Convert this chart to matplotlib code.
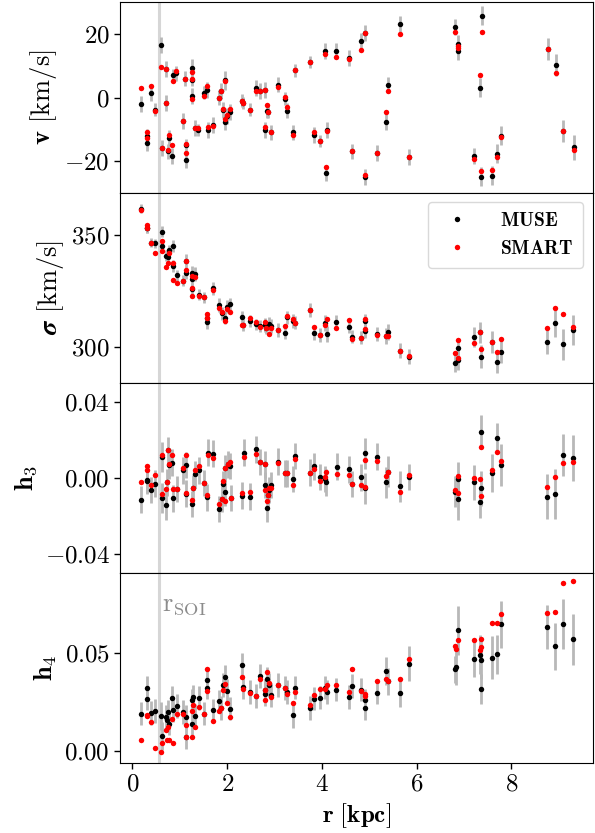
import numpy as np
import matplotlib
matplotlib.use("Agg")
import matplotlib.pyplot as plt

plt.rcParams["font.family"] = "serif"
plt.rcParams["font.serif"] = ["cmr10", "DejaVu Serif"]
plt.rcParams["mathtext.fontset"] = "cm"
plt.rcParams["axes.formatter.use_mathtext"] = True
plt.rcParams["font.size"] = 18

# --- dane: v [km/s] (r, MUSE, SMART, blad MUSE)
r_v = [0.19, 0.30, 0.30, 0.39, 0.47, 0.61, 0.62, 0.70, 0.71, 0.74, 0.78, 0.83, 0.85, 0.92,
       1.06, 1.11, 1.14, 1.14, 1.25, 1.25, 1.25, 1.33, 1.39, 1.50, 1.57, 1.59, 1.71, 1.83,
       1.88, 1.91, 1.95, 1.95, 2.00, 2.07, 2.31, 2.34, 2.48, 2.60, 2.69, 2.79, 2.79, 2.84,
       2.86, 2.92, 3.08, 3.22, 3.27, 3.39, 3.44, 3.75, 3.84, 3.96, 4.06, 4.10, 4.09, 4.30,
       4.57, 4.64, 4.82, 4.92, 4.92, 5.16, 5.35, 5.40, 5.66, 5.84, 6.81, 6.88, 6.88, 7.21,
       7.34, 7.36, 7.38, 7.59, 7.69, 7.78, 8.78, 8.94, 9.10, 9.33]
v_muse = [-2.0, -14.4, -12.0, 1.5, -3.8, 16.7, -16.0, 9.0, -1.6, -17.0, -12.8, -18.4, 7.0, 7.6,
          -7.3, 6.0, -15.0, -19.7, 9.2, 5.5, 0.4, -9.6, -10.2, 1.5, 2.5, -10.2, -8.6, 0.0,
          2.2, -3.8, 5.4, -7.8, -5.9, -4.6, -1.0, -1.7, -3.8, 2.9, 2.2, 2.5, -10.2, -4.1,
          -4.5, -11.0, 4.1, -0.4, -4.1, -11.0, 8.6, 11.2, -11.7, -13.7, 14.7, -10.2, -23.8, 14.7,
          12.4, -17.0, 17.8, 20.5, -25.0, -17.4, -7.6, 4.0, 23.2, -18.8, 22.4, 16.8, 14.7, -18.4,
          3.1, -25.0, 25.8, -24.7, -17.8, -12.1, 15.4, 10.3, -10.5, -15.7]
v_smart = [2.9, -12.8, -11.0, 3.8, -4.1, 9.6, -16.0, 9.0, -1.6, -16.5, -11.7, -14.9, 5.2, 8.5,
           -7.3, 6.0, -14.7, -17.6, 8.0, 6.0, -0.3, -9.6, -9.5, 0.6, 3.6, -9.4, -8.9, 0.0,
           2.2, -3.6, 5.2, -6.8, -5.6, -3.6, -1.2, -1.7, -3.8, 2.2, 2.2, 2.5, -9.4, -2.5,
           -4.5, -11.0, 3.4, 0.2, -3.1, -11.7, 8.6, 11.2, -11.0, -13.7, 13.7, -10.5, -21.8, 12.9,
           12.1, -17.0, 15.0, 20.5, -24.4, -17.4, -4.6, 2.2, 20.0, -18.8, 20.7, 16.2, 15.5, -19.4,
           7.1, -23.2, 20.7, -22.9, -18.6, -12.3, 15.4, 7.7, -10.5, -16.7]
v_err = [2.5, 2.5, 2.0, 2.5, 2.0, 2.5, 2.5, 2.5, 2.5, 2.5, 2.5, 2.5, 2.0, 2.5,
         2.5, 2.5, 2.0, 2.5, 3.0, 2.0, 2.5, 2.5, 2.0, 2.0, 2.5, 2.5, 2.5, 2.5,
         2.5, 2.5, 3.0, 2.5, 2.5, 2.5, 2.0, 2.0, 2.0, 2.5, 2.5, 2.5, 2.5, 2.5,
         2.0, 2.5, 2.5, 2.0, 2.5, 2.5, 2.0, 2.0, 2.5, 2.0, 2.5, 2.5, 2.5, 2.5,
         2.5, 2.5, 2.5, 2.5, 2.5, 2.5, 2.5, 2.5, 2.5, 2.5, 2.5, 3.0, 3.0, 2.5,
         3.0, 3.0, 3.0, 3.0, 3.0, 3.0, 3.5, 3.5, 3.5, 4.0]

# --- dane: sigma [km/s]
r_sig = [0.19, 0.30, 0.30, 0.39, 0.47, 0.62, 0.62, 0.71, 0.74, 0.78, 0.85, 0.85, 0.93, 1.06,
         1.13, 1.13, 1.25, 1.25, 1.25, 1.33, 1.40, 1.50, 1.57, 1.58, 1.71, 1.83, 1.90, 1.95,
         2.00, 2.07, 2.31, 2.34, 2.48, 2.60, 2.69, 2.79, 2.82, 2.88, 2.93, 3.08, 3.22, 3.27,
         3.39, 3.44, 3.75, 3.84, 3.96, 4.06, 4.10, 4.30, 4.57, 4.64, 4.83, 4.92, 4.92, 5.16,
         5.35, 5.40, 5.66, 5.84, 6.81, 6.87, 6.87, 7.21, 7.34, 7.36, 7.59, 7.69, 7.78, 8.76,
         8.93, 9.09, 9.31]
sig_muse = [361.9, 353.0, 353.0, 346.7, 346.3, 351.5, 345.2, 340.8, 340.3, 343.3, 345.1, 336.2, 332.1, 329.6,
            338.5, 332.9, 333.2, 330.2, 325.7, 332.6, 323.4, 322.2, 311.2, 312.8, 326.2, 318.8, 315.0, 313.1,
            318.0, 319.0, 313.2, 309.8, 311.6, 310.1, 309.4, 309.8, 308.3, 310.3, 309.4, 307.6, 306.4, 313.2,
            311.6, 310.9, 316.5, 306.1, 305.4, 310.6, 305.7, 311.3, 309.1, 304.6, 304.2, 311.6, 307.1, 305.8,
            304.9, 306.8, 298.4, 295.7, 292.7, 299.7, 294.2, 304.3, 306.5, 295.7, 302.1, 293.5, 297.9, 302.4,
            310.6, 301.2, 307.6]
sig_smart = [361.2, 354.5, 353.0, 346.3, 342.1, 347.5, 343.0, 335.6, 337.4, 341.8, 337.6, 329.9, 328.7, 329.6,
             338.5, 334.4, 331.7, 326.5, 322.9, 331.4, 322.9, 322.2, 314.7, 312.8, 325.4, 317.6, 315.5, 311.6,
             317.0, 315.8, 309.8, 309.8, 312.8, 311.0, 309.1, 311.3, 308.3, 305.8, 308.3, 307.6, 309.4, 313.8,
             312.4, 310.9, 316.5, 308.8, 305.4, 309.8, 312.4, 308.6, 312.1, 303.4, 304.2, 312.4, 307.9, 305.4,
             304.9, 304.9, 298.4, 296.0, 297.2, 303.1, 295.0, 301.9, 306.5, 299.0, 302.4, 297.9, 303.4, 308.3,
             317.3, 314.7, 309.1]
sig_err = [2.0, 2.0, 2.0, 2.0, 2.0, 2.5, 2.5, 2.5, 2.5, 2.5, 2.5, 2.5, 2.5, 2.5,
           3.0, 2.5, 3.0, 2.5, 2.5, 3.0, 2.5, 2.5, 3.0, 3.0, 3.0, 3.0, 3.0, 3.0,
           3.0, 3.0, 3.0, 2.5, 2.5, 2.5, 2.5, 3.0, 2.5, 3.0, 3.0, 3.0, 3.0, 3.0,
           3.0, 3.0, 3.0, 3.0, 3.0, 3.5, 3.5, 3.0, 3.0, 3.0, 3.0, 3.0, 3.0, 3.0,
           3.5, 3.5, 3.5, 3.5, 4.0, 4.5, 4.5, 4.5, 4.5, 5.0, 5.0, 5.0, 5.0, 5.5,
           6.0, 7.0, 6.5]

# --- dane: h3
r_h3 = [0.19, 0.30, 0.30, 0.39, 0.47, 0.62, 0.62, 0.71, 0.72, 0.74, 0.78, 0.83, 0.85, 0.93,
        1.06, 1.13, 1.13, 1.25, 1.27, 1.33, 1.40, 1.50, 1.57, 1.59, 1.71, 1.83, 1.90, 1.91,
        1.95, 1.96, 2.01, 2.07, 2.09, 2.31, 2.35, 2.48, 2.60, 2.69, 2.79, 2.79, 2.84, 2.86,
        2.88, 2.93, 3.08, 3.22, 3.27, 3.39, 3.44, 3.75, 3.84, 3.96, 4.06, 4.09, 4.31, 4.57,
        4.64, 4.83, 4.92, 4.92, 5.16, 5.35, 5.40, 5.66, 5.84, 6.81, 6.87, 6.87, 7.21, 7.34,
        7.37, 7.36, 7.59, 7.69, 7.78, 8.76, 8.93, 9.09, 9.31]
h3_muse = [-0.0115, -0.0012, -0.0016, -0.0065, -0.0030, 0.0110, -0.0106, -0.0141, -0.0024, 0.0145, 0.0066, 0.0080, -0.0108, -0.0059,
           0.0040, 0.0068, -0.0083, -0.0138, -0.0056, 0.0019, 0.0040, -0.0028, -0.0103, 0.0132, 0.0127, -0.0164, -0.0112, -0.0033,
           -0.0077, 0.0051, 0.0071, 0.0063, -0.0106, -0.0094, 0.0132, -0.0099, 0.0150, 0.0084, -0.0038, 0.0071, -0.0160, -0.0091,
           -0.0065, -0.0038, 0.0085, 0.0023, 0.0023, -0.0007, 0.0115, 0.0028, 0.0061, 0.0005, -0.0007, -0.0024, 0.0058, 0.0045,
           -0.0033, 0.0002, 0.0129, -0.0056, 0.0112, -0.0024, 0.0033, -0.0045, 0.0005, -0.0073, -0.0007, -0.0112, -0.0024, -0.0129,
           -0.0056, 0.0242, 0.0023, 0.0211, 0.0068, -0.0099, -0.0085, 0.0122, 0.0105]
h3_smart = [-0.0021, 0.0063, 0.0040, -0.0037, 0.0016, 0.0120, -0.0085, -0.0059, -0.0024, 0.0145, 0.0075, 0.0120, -0.0059, -0.0059,
            0.0054, 0.0120, -0.0080, -0.0117, -0.0056, 0.0040, 0.0063, -0.0028, -0.0089, 0.0120, 0.0106, -0.0138, -0.0112, -0.0016,
            -0.0120, 0.0051, 0.0071, 0.0084, -0.0106, -0.0080, 0.0110, -0.0073, 0.0127, 0.0084, -0.0065, 0.0071, -0.0124, -0.0091,
            -0.0051, -0.0051, 0.0077, 0.0023, 0.0023, -0.0037, 0.0101, 0.0028, 0.0045, -0.0016, 0.0005, 0.0033, 0.0019, 0.0016,
            -0.0033, -0.0038, 0.0094, -0.0047, 0.0089, 0.0010, 0.0033, -0.0073, 0.0016, -0.0065, 0.0007, -0.0080, -0.0003, -0.0007,
            -0.0094, 0.0164, 0.0040, 0.0136, 0.0089, -0.0047, 0.0002, 0.0078, 0.0084]
h3_err = [0.007, 0.007, 0.007, 0.007, 0.007, 0.008, 0.008, 0.008, 0.007, 0.007, 0.007, 0.007, 0.007, 0.007,
          0.007, 0.007, 0.007, 0.007, 0.007, 0.007, 0.007, 0.007, 0.007, 0.007, 0.007, 0.007, 0.007, 0.007,
          0.007, 0.007, 0.007, 0.007, 0.007, 0.007, 0.007, 0.007, 0.007, 0.007, 0.007, 0.007, 0.007, 0.007,
          0.007, 0.007, 0.007, 0.007, 0.007, 0.007, 0.007, 0.007, 0.007, 0.007, 0.007, 0.007, 0.007, 0.007,
          0.007, 0.007, 0.008, 0.008, 0.007, 0.008, 0.008, 0.008, 0.007, 0.008, 0.009, 0.011, 0.009, 0.008,
          0.009, 0.009, 0.010, 0.008, 0.011, 0.012, 0.013, 0.011, 0.012]

# --- dane: h4
r_h4 = [0.19, 0.30, 0.30, 0.39, 0.47, 0.61, 0.62, 0.71, 0.72, 0.74, 0.78, 0.83, 0.85, 0.93,
        1.06, 1.13, 1.13, 1.25, 1.26, 1.27, 1.33, 1.40, 1.50, 1.57, 1.57, 1.71, 1.83, 1.88,
        1.92, 1.95, 2.00, 2.07, 2.31, 2.34, 2.48, 2.60, 2.69, 2.79, 2.80, 2.84, 2.88, 2.93,
        3.08, 3.22, 3.27, 3.39, 3.44, 3.75, 3.84, 3.96, 4.06, 4.10, 4.30, 4.57, 4.64, 4.83,
        4.92, 4.92, 5.16, 5.35, 5.40, 5.66, 5.84, 6.81, 6.84, 6.88, 7.21, 7.34, 7.36, 7.37,
        7.59, 7.69, 7.78, 8.76, 8.93, 9.09, 9.31]
h4_muse = [0.0192, 0.0325, 0.0269, 0.0196, 0.0206, 0.0180, 0.0077, 0.0175, 0.0160, 0.0200, 0.0141, 0.0272, 0.0210, 0.0230,
           0.0200, 0.0175, 0.0073, 0.0260, 0.0141, 0.0277, 0.0179, 0.0272, 0.0192, 0.0362, 0.0325, 0.0209, 0.0255, 0.0221,
           0.0337, 0.0379, 0.0308, 0.0218, 0.0439, 0.0328, 0.0303, 0.0281, 0.0383, 0.0291, 0.0311, 0.0371, 0.0337, 0.0286,
           0.0337, 0.0323, 0.0303, 0.0187, 0.0325, 0.0221, 0.0269, 0.0274, 0.0325, 0.0303, 0.0315, 0.0277, 0.0333, 0.0315,
           0.0260, 0.0221, 0.0299, 0.0410, 0.0357, 0.0298, 0.0447, 0.0418, 0.0430, 0.0617, 0.0471, 0.0493, 0.0468, 0.0318,
           0.0478, 0.0495, 0.0648, 0.0634, 0.0536, 0.0648, 0.0571]
h4_smart = [0.0056, 0.0184, 0.0179, 0.0150, 0.0017, -0.0003, 0.0044, 0.0107, 0.0056, 0.0124, 0.0056, 0.0167, 0.0044, 0.0192,
            0.0189, 0.0133, 0.0073, 0.0206, 0.0073, 0.0235, 0.0124, 0.0226, 0.0192, 0.0418, 0.0308, 0.0155, 0.0204, 0.0221,
            0.0315, 0.0345, 0.0247, 0.0175, 0.0379, 0.0320, 0.0298, 0.0281, 0.0371, 0.0260, 0.0311, 0.0403, 0.0349, 0.0277,
            0.0337, 0.0323, 0.0291, 0.0247, 0.0303, 0.0238, 0.0286, 0.0320, 0.0320, 0.0340, 0.0337, 0.0303, 0.0422, 0.0308,
            0.0291, 0.0281, 0.0359, 0.0371, 0.0357, 0.0371, 0.0473, 0.0537, 0.0524, 0.0570, 0.0566, 0.0515, 0.0575, 0.0532,
            0.0655, 0.0655, 0.0702, 0.0707, 0.0713, 0.0861, 0.0867]
h4_err = [0.006, 0.006, 0.006, 0.006, 0.006, 0.007, 0.007, 0.006, 0.006, 0.006, 0.006, 0.006, 0.006, 0.006,
          0.006, 0.006, 0.006, 0.006, 0.006, 0.006, 0.006, 0.006, 0.006, 0.006, 0.006, 0.006, 0.006, 0.006,
          0.006, 0.006, 0.006, 0.006, 0.006, 0.006, 0.006, 0.006, 0.006, 0.006, 0.006, 0.006, 0.006, 0.006,
          0.006, 0.006, 0.006, 0.007, 0.006, 0.006, 0.006, 0.006, 0.006, 0.006, 0.006, 0.006, 0.006, 0.006,
          0.006, 0.006, 0.006, 0.007, 0.007, 0.007, 0.009, 0.007, 0.009, 0.0125, 0.009, 0.010, 0.010, 0.0075,
          0.011, 0.010, 0.012, 0.011, 0.012, 0.0128, 0.013]

r_soi = 0.55

panele = [
    (r_v, v_muse, v_smart, v_err, r'$\mathbf{v}$ [km/s]', (-30, 30), [-20, 0, 20]),
    (r_sig, sig_muse, sig_smart, sig_err, r'$\boldsymbol{\sigma}$ [km/s]', (284, 369), [300, 350]),
    (r_h3, h3_muse, h3_smart, h3_err, r'$\mathbf{h_3}$', (-0.05, 0.05), [-0.04, 0.0, 0.04]),
    (r_h4, h4_muse, h4_smart, h4_err, r'$\mathbf{h_4}$', (-0.006, 0.091), [0.0, 0.05]),
]

fig, axes = plt.subplots(4, 1, figsize=(5.95, 8.33), dpi=100, sharex=True)
fig.subplots_adjust(left=0.202, right=0.996, top=0.997, bottom=0.084, hspace=0)

for ax, (r, muse, smart, err, etykieta, ylim, yt) in zip(axes, panele):
    ax.axvline(r_soi, color="0.84", lw=2.2, zorder=0)
    ax.errorbar(r, muse, yerr=err, fmt="none", ecolor="0.72", elinewidth=2.0, zorder=1)
    ax.plot(r, muse, "o", color="black", ms=3.9, mew=0, zorder=2, label=r'$\mathbf{MUSE}$')
    ax.plot(r, smart, "o", color="red", ms=3.9, mew=0, zorder=3, label=r'$\mathbf{SMART}$')
    ax.set_ylim(*ylim)
    ax.set_yticks(yt)
    ax.set_ylabel(etykieta, fontsize=19)
    ax.tick_params(axis="both", labelsize=18, direction="out", length=4, width=1)
    ax.tick_params(axis="x", bottom=False)

axes[-1].tick_params(axis="x", bottom=True)
axes[-1].set_xlim(-0.26, 9.72)
axes[-1].set_xticks([0, 2, 4, 6, 8])
axes[-1].set_xlabel(r'$\mathbf{r\ [kpc]}$', fontsize=18)

axes[1].legend(loc="upper right", fontsize=14, markerscale=1.0, handletextpad=1.2,
               borderpad=0.5, framealpha=1, edgecolor="0.85")

axes[3].text(0.63, 0.072, r'$\mathrm{r_{SOI}}$', color="0.55", fontsize=19, va="baseline")

plt.savefig("out.png", dpi=100)
